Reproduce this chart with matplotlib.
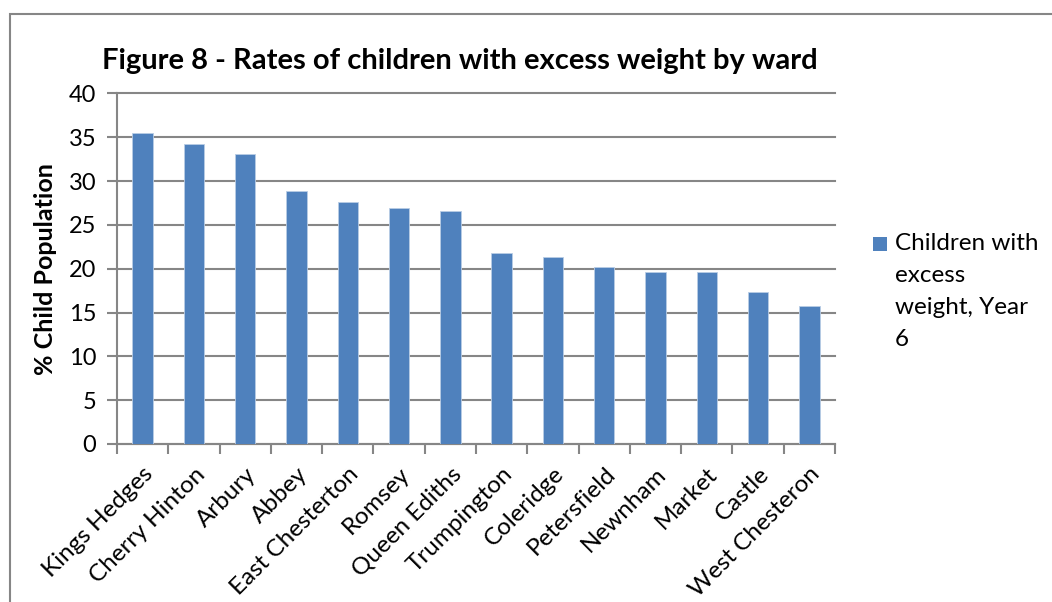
import numpy as np
import matplotlib
matplotlib.use('Agg')
import matplotlib.pyplot as plt
from matplotlib.patches import Rectangle

plt.rcParams['font.family'] = ['Lato', 'DejaVu Sans']

wards = ['Kings Hedges', 'Cherry Hinton', 'Arbury', 'Abbey', 'East Chesterton',
         'Romsey', 'Queen Ediths', 'Trumpington', 'Coleridge', 'Petersfield',
         'Newnham', 'Market', 'Castle', 'West Chesteron']
excess_weight = [35.5, 34.2, 33.1, 28.85, 27.6, 26.95, 26.6,
                 21.85, 21.3, 20.25, 19.6, 19.6, 17.3, 15.8]
series_name = 'Children with\nexcess\nweight, Year\n6'
y_ticks = [0, 5, 10, 15, 20, 25, 30, 35, 40]

grey = '#868686'
blue = '#4F81BD'

fig = plt.figure(figsize=(10.52, 6.02), dpi=100)
# outer chart border
fig.patches.append(Rectangle((10 / 1052, -0.05), 1.1, 1 - 14 / 602 + 0.05,
                             transform=fig.transFigure, fill=False,
                             edgecolor=grey, linewidth=1.5))

ax = fig.add_axes([117 / 1052, 1 - 444 / 602, (835 - 117) / 1052, (444 - 93.5) / 602])
x = np.arange(len(wards))
ax.bar(x, excess_weight, width=0.4, color=blue, edgecolor='#B9CDE5',
       linewidth=0.6, label=series_name, zorder=3)

ax.set_xlim(-0.5, len(wards) - 0.5)
ax.set_ylim(0, 40)
ax.set_yticks(y_ticks)
ax.set_yticklabels([str(t) for t in y_ticks], fontsize=17)
ax.yaxis.grid(True, color=grey, linewidth=1.5, zorder=0)
for gl in ax.get_ygridlines():
    gl.set_clip_on(False)
ax.tick_params(axis='y', direction='out', length=7, width=1.5, color=grey, pad=8)

ax.set_xticks(x)
ax.set_xticklabels(wards, rotation=45, ha='right', va='top',
                   rotation_mode='anchor', fontsize=17.5)
ax.tick_params(axis='x', which='major', length=0, pad=14)
ax.set_xticks(np.arange(-0.5, len(wards)), minor=True)
ax.tick_params(axis='x', which='minor', direction='out', length=7, width=1.5, color=grey)

for side in ['top', 'right']:
    ax.spines[side].set_visible(False)
for side in ['left', 'bottom']:
    ax.spines[side].set_color(grey)
    ax.spines[side].set_linewidth(1.5)

ax.set_ylabel('% Child Population', fontsize=18, fontweight='bold', labelpad=8)
fig.text(460 / 1052, 1 - 61 / 602, 'Figure 8 - Rates of children with excess weight by ward',
         ha='center', va='center', fontsize=21, fontweight='bold')

# legend drawn by hand so the swatch sits beside the first line
fig.patches.append(Rectangle((873 / 1052, 1 - 251 / 602), 14 / 1052, 14 / 602,
                             transform=fig.transFigure, facecolor=blue,
                             edgecolor='none'))
fig.text(895 / 1052, 1 - 233 / 602, series_name, ha='left', va='top',
         fontsize=17.5, linespacing=1.64)

fig.savefig('out.png', dpi=100)
